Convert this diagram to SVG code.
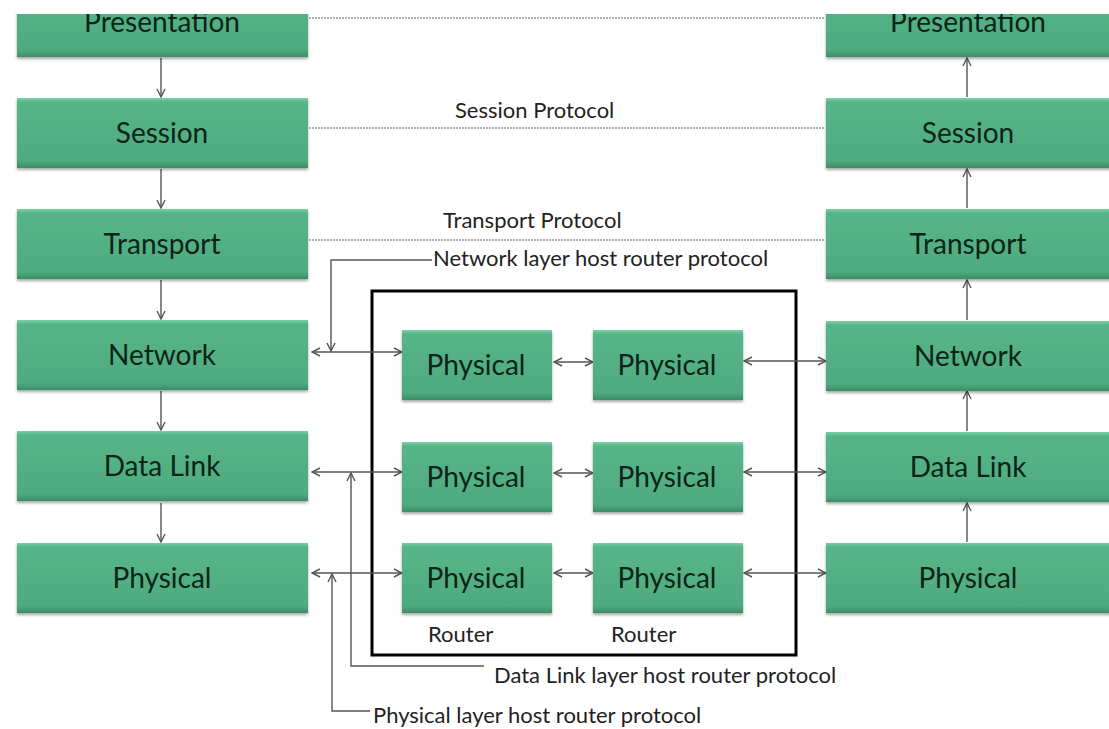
<svg xmlns="http://www.w3.org/2000/svg" width="1109" height="729" viewBox="0 0 1109 729">
  <defs>
    <linearGradient id="boxFill" x1="0" y1="0" x2="0" y2="1">
      <stop offset="0" stop-color="#7ccfa3"/>
      <stop offset="0.06" stop-color="#56b588"/>
      <stop offset="0.9" stop-color="#4fab7f"/>
      <stop offset="1" stop-color="#3c8d66"/>
    </linearGradient>
    <filter id="shadow" x="-5%" y="-10%" width="110%" height="130%">
      <feDropShadow dx="0" dy="2" stdDeviation="1.5" flood-color="#000" flood-opacity="0.35"/>
    </filter>
    <clipPath id="topCrop">
      <rect x="0" y="14" width="1109" height="715"/>
    </clipPath>
    <marker id="head" viewBox="0 0 10 10" refX="9" refY="5" markerWidth="10" markerHeight="10" markerUnits="userSpaceOnUse" orient="auto-start-reverse">
      <path d="M1,1 L9,5 L1,9" fill="none" stroke="#555" stroke-width="1.4"/>
    </marker>
  </defs>
  <style>
    .box { fill: url(#boxFill); filter: url(#shadow); }
    .lbl { font-family: Lato, "Open Sans", sans-serif; font-size: 28px; fill: #0c2418; text-anchor: middle; }
    .note { font-family: Lato, "Open Sans", sans-serif; font-size: 22px; fill: #222; }
    .dash { stroke: #666; stroke-width: 1.2; stroke-dasharray: 2 1; fill: none; }
    .link { stroke: #555; stroke-width: 1.4; fill: none; }
    .arrow { stroke: #555; stroke-width: 1.4; fill: none; marker-end: url(#head); }
    .both { stroke: #555; stroke-width: 1.4; fill: none; marker-start: url(#head); marker-end: url(#head); }
  </style>

  <rect width="1109" height="729" fill="#fff"/>

  <!-- router enclosure -->
  <rect id="router-frame" x="372" y="291" width="424" height="364" fill="none" stroke="#000" stroke-width="3"/>

  <!-- connectors -->
  <g id="connectors">
    <!-- peer protocols -->
    <line class="dash" x1="309" y1="18" x2="825" y2="18"/>
    <line class="dash" x1="309" y1="128" x2="825" y2="128"/>
    <line class="dash" x1="309" y1="240" x2="825" y2="240"/>

    <!-- sending stack, downwards -->
    <line class="arrow" x1="161" y1="58" x2="161" y2="97"/>
    <line class="arrow" x1="161" y1="169" x2="161" y2="208"/>
    <line class="arrow" x1="161" y1="280" x2="161" y2="319"/>
    <line class="arrow" x1="161" y1="391" x2="161" y2="430"/>
    <line class="arrow" x1="161" y1="503" x2="161" y2="542"/>

    <!-- receiving stack, upwards -->
    <line class="arrow" x1="967" y1="97" x2="967" y2="58"/>
    <line class="arrow" x1="967" y1="208" x2="967" y2="169"/>
    <line class="arrow" x1="967" y1="320" x2="967" y2="280"/>
    <line class="arrow" x1="967" y1="431" x2="967" y2="391"/>
    <line class="arrow" x1="967" y1="542" x2="967" y2="503"/>

    <!-- host to router links -->
    <line class="both" x1="312" y1="352" x2="402" y2="352"/>
    <line class="both" x1="312" y1="472" x2="402" y2="472"/>
    <line class="both" x1="312" y1="573" x2="402" y2="573"/>

    <!-- router to router links -->
    <line class="both" x1="554" y1="362" x2="593" y2="362"/>
    <line class="both" x1="554" y1="473" x2="593" y2="473"/>
    <line class="both" x1="554" y1="573" x2="593" y2="573"/>

    <!-- router to host links -->
    <line class="both" x1="744" y1="361" x2="826" y2="361"/>
    <line class="both" x1="744" y1="472" x2="826" y2="472"/>
    <line class="both" x1="744" y1="573" x2="826" y2="573"/>

    <!-- callouts -->
    <polyline class="arrow" points="432,260 331,260 331,351"/>
    <polyline class="arrow" points="484,666 351,666 351,473"/>
    <polyline class="arrow" points="370,711 332,711 332,574"/>
  </g>

  <!-- protocol labels -->
  <text class="note" x="455" y="118">Session Protocol</text>
  <text class="note" x="443" y="228">Transport Protocol</text>
  <text class="note" x="433" y="266">Network layer host router protocol</text>
  <text class="note" x="494" y="683">Data Link layer host router protocol</text>
  <text class="note" x="373" y="723">Physical layer host router protocol</text>
  <text class="note" x="428" y="642">Router</text>
  <text class="note" x="611" y="642">Router</text>

  <!-- sending host stack -->
  <g id="left-presentation" clip-path="url(#topCrop)">
    <rect class="box" x="17" y="-13" width="291" height="70"/>
    <text class="lbl" x="162" y="32">Presentation</text>
  </g>
  <g id="left-session">
    <rect class="box" x="17" y="98" width="291" height="70"/>
    <text class="lbl" x="162" y="143">Session</text>
  </g>
  <g id="left-transport">
    <rect class="box" x="17" y="209" width="291" height="70"/>
    <text class="lbl" x="162" y="254">Transport</text>
  </g>
  <g id="left-network">
    <rect class="box" x="17" y="320" width="291" height="70"/>
    <text class="lbl" x="162" y="365">Network</text>
  </g>
  <g id="left-datalink">
    <rect class="box" x="17" y="431" width="291" height="70"/>
    <text class="lbl" x="162" y="476">Data Link</text>
  </g>
  <g id="left-physical">
    <rect class="box" x="17" y="543" width="291" height="70"/>
    <text class="lbl" x="162" y="588">Physical</text>
  </g>

  <!-- routers -->
  <g id="router1-network">
    <rect class="box" x="402" y="330" width="150" height="70"/>
    <text class="lbl" x="476" y="375">Physical</text>
  </g>
  <g id="router1-datalink">
    <rect class="box" x="402" y="442" width="150" height="70"/>
    <text class="lbl" x="476" y="487">Physical</text>
  </g>
  <g id="router1-physical">
    <rect class="box" x="402" y="543" width="150" height="70"/>
    <text class="lbl" x="476" y="588">Physical</text>
  </g>
  <g id="router2-network">
    <rect class="box" x="593" y="330" width="150" height="70"/>
    <text class="lbl" x="667" y="375">Physical</text>
  </g>
  <g id="router2-datalink">
    <rect class="box" x="593" y="442" width="150" height="70"/>
    <text class="lbl" x="667" y="487">Physical</text>
  </g>
  <g id="router2-physical">
    <rect class="box" x="593" y="543" width="150" height="70"/>
    <text class="lbl" x="667" y="588">Physical</text>
  </g>

  <!-- receiving host stack -->
  <g id="right-presentation" clip-path="url(#topCrop)">
    <rect class="box" x="826" y="-13" width="291" height="70"/>
    <text class="lbl" x="968" y="32">Presentation</text>
  </g>
  <g id="right-session">
    <rect class="box" x="826" y="98" width="291" height="70"/>
    <text class="lbl" x="968" y="143">Session</text>
  </g>
  <g id="right-transport">
    <rect class="box" x="826" y="209" width="291" height="70"/>
    <text class="lbl" x="968" y="254">Transport</text>
  </g>
  <g id="right-network">
    <rect class="box" x="826" y="321" width="291" height="70"/>
    <text class="lbl" x="968" y="366">Network</text>
  </g>
  <g id="right-datalink">
    <rect class="box" x="826" y="432" width="291" height="70"/>
    <text class="lbl" x="968" y="477">Data Link</text>
  </g>
  <g id="right-physical">
    <rect class="box" x="826" y="543" width="291" height="70"/>
    <text class="lbl" x="968" y="588">Physical</text>
  </g>
</svg>
